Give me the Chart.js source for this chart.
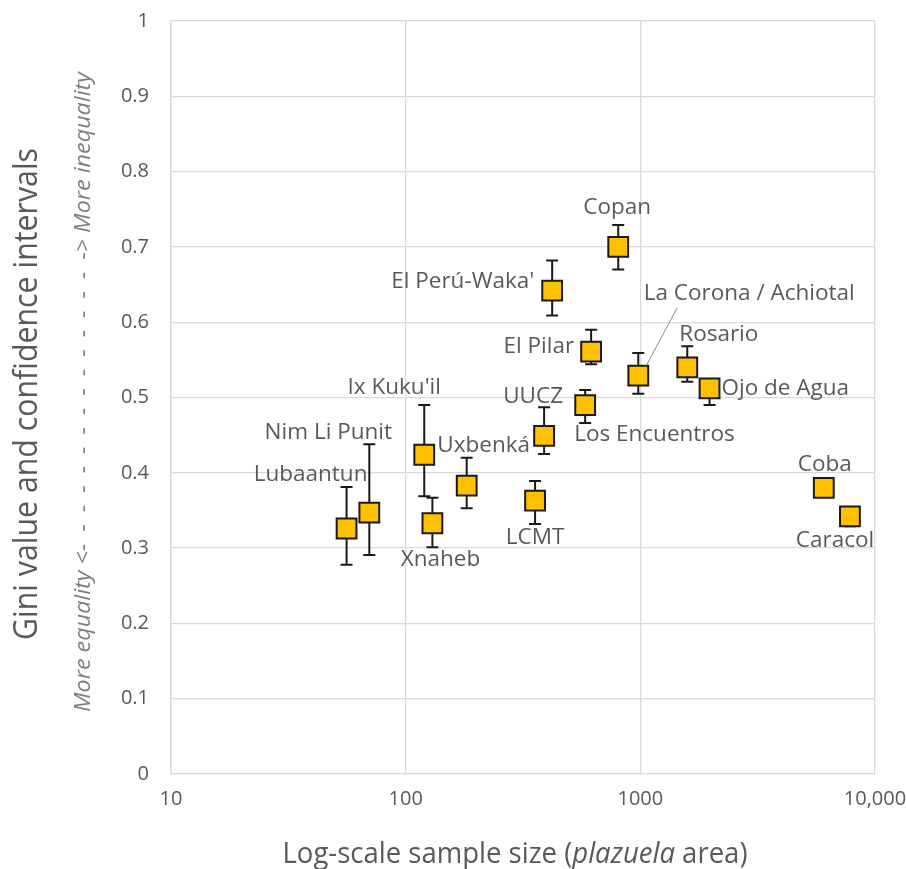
<!DOCTYPE html>
<html>
<head>
<meta charset="utf-8">
<script src="https://cdn.jsdelivr.net/npm/chart.js@4.4.1/dist/chart.umd.min.js"></script>
<style>
  html, body { margin: 0; padding: 0; background: #fff; }
  #wrap { width: 906px; height: 869px; }
</style>
</head>
<body>
<div id="wrap"><canvas id="giniChart" width="906" height="869"></canvas></div>
<script>
// sites and values
const sites = ["Lubaantun", "Nim Li Punit", "Ix Kuku'il", "Xnaheb", "Uxbenká", "LCMT", "UUCZ",
  "El Perú-Waka'", "Los Encuentros", "El Pilar", "Copan", "La Corona / Achiotal", "Rosario",
  "Ojo de Agua", "Coba", "Caracol"];
const sampleSize = [56, 70, 120, 130, 182, 356, 389, 421, 582, 617, 805, 980, 1585, 1972, 6050, 7820];
const gini =   [0.326, 0.347, 0.424, 0.333, 0.383, 0.363, 0.449, 0.642, 0.490, 0.561, 0.700, 0.529, 0.540, 0.512, 0.380, 0.342];
const ciLow =  [0.278, 0.291, 0.369, 0.301, 0.353, 0.332, 0.425, 0.609, 0.466, 0.544, 0.670, 0.505, 0.521, 0.490, 0.380, 0.329];
const ciHigh = [0.381, 0.438, 0.490, 0.367, 0.420, 0.389, 0.487, 0.682, 0.510, 0.590, 0.729, 0.559, 0.568, 0.512, 0.380, 0.342];

const xTicks = [10, 100, 1000, 10000];
const xTickLabels = ["10", "100", "1000", "10,000"];

const LABEL_FONT = '22.5px "Open Sans"';
const TEXT_GREY = "#595959";

// where each site name sits relative to its marker: [align, dx, dy]
const labelPlacement = {
  "Lubaantun": ["center", -36, -54],
  "Nim Li Punit": ["center", -41, -80],
  "Ix Kuku'il": ["center", -30, -67],
  "Xnaheb": ["center", 8, 36],
  "Uxbenká": ["center", 17, -40],
  "LCMT": ["center", 0, 37],
  "UUCZ": ["center", -11, -39],
  "El Perú-Waka'": ["right", -18, -9],
  "Los Encuentros": ["left", -11, 30],
  "El Pilar": ["right", -17, -5],
  "Copan": ["center", -1, -39],
  "La Corona / Achiotal": ["center", 111, -82],
  "Rosario": ["left", -8, -33],
  "Ojo de Agua": ["left", 12, 0],
  "Coba": ["center", 1, -23],
  "Caracol": ["center", -15, 24],
};

const errorBars = {
  id: "errorBars",
  beforeDatasetsDraw(chart) {
    const { ctx } = chart;
    const y = chart.scales.y;
    const meta = chart.getDatasetMeta(0);
    ctx.save();
    ctx.strokeStyle = "#1a1a1a";
    ctx.lineWidth = 2;
    meta.data.forEach((pt, i) => {
      const top = y.getPixelForValue(ciHigh[i]);
      const bot = y.getPixelForValue(ciLow[i]);
      ctx.beginPath();
      ctx.moveTo(pt.x, top); ctx.lineTo(pt.x, bot);
      ctx.moveTo(pt.x - 6, top); ctx.lineTo(pt.x + 6, top);
      ctx.moveTo(pt.x - 6, bot); ctx.lineTo(pt.x + 6, bot);
      ctx.stroke();
    });
    ctx.restore();
  }
};

const siteLabels = {
  id: "siteLabels",
  afterDatasetsDraw(chart) {
    const { ctx } = chart;
    const meta = chart.getDatasetMeta(0);
    ctx.save();
    ctx.font = LABEL_FONT;
    ctx.fillStyle = TEXT_GREY;
    ctx.textBaseline = "middle";
    meta.data.forEach((pt, i) => {
      const p = labelPlacement[sites[i]];
      ctx.textAlign = p[0];
      ctx.fillText(sites[i], pt.x + p[1], pt.y + p[2]);
      if (sites[i] === "La Corona / Achiotal") {
        // leader line
        ctx.strokeStyle = "#8c8c8c";
        ctx.lineWidth = 1;
        ctx.beginPath();
        ctx.moveTo(pt.x + 8, pt.y - 10);
        ctx.lineTo(pt.x + 39, pt.y - 68);
        ctx.stroke();
      }
    });
    ctx.restore();
  }
};

// draw a run of text pieces squeezed/stretched to a given length, centred on 0,0
function fitRun(ctx, parts, length) {
  let total = 0;
  parts.forEach(p => { ctx.font = p[1]; total += ctx.measureText(p[0]).width; });
  ctx.scale(length / total, 1);
  let x = -total / 2;
  ctx.textAlign = "left";
  parts.forEach(p => { ctx.font = p[1]; ctx.fillText(p[0], x, 0); x += ctx.measureText(p[0]).width; });
}

const axisTitles = {
  id: "axisTitles",
  afterDraw(chart) {
    const { ctx } = chart;
    ctx.save();
    ctx.fillStyle = TEXT_GREY;
    ctx.textBaseline = "middle";

    // x title with italic word
    ctx.save();
    ctx.translate(515, 855);
    fitRun(ctx, [["Log-scale sample size (", '29px "Open Sans"'], ["plazuela", 'italic 29px "Open Sans"'], [" area)", '29px "Open Sans"']], 465);
    ctx.restore();

    // y title
    ctx.save();
    ctx.translate(28, 394);
    ctx.rotate(-Math.PI / 2);
    fitRun(ctx, [["Gini value and confidence intervals", '33px "Open Sans"']], 492);
    ctx.restore();

    // italic equality note
    ctx.save();
    ctx.translate(84, 392);
    ctx.rotate(-Math.PI / 2);
    ctx.fillStyle = "#7f7f7f";
    const dashes = "-  ".repeat(15) + "-";
    fitRun(ctx, [["More equality <" + dashes + "> More inequality", 'italic 22px "Open Sans"']], 640);
    ctx.restore();

    ctx.restore();
  }
};

new Chart(document.getElementById("giniChart"), {
  type: "scatter",
  data: {
    datasets: [{
      data: sampleSize.map((s, i) => ({ x: s, y: gini[i] })),
      pointStyle: "rect",
      pointRadius: 14,
      pointHoverRadius: 14,
      backgroundColor: "#FFC000",
      borderColor: "#1a1a1a",
      borderWidth: 2,
    }]
  },
  options: {
    responsive: false,
    animation: false,
    devicePixelRatio: 1,
    layout: { padding: { top: 21, right: 31, left: 0, bottom: 0 } },
    plugins: { legend: { display: false }, tooltip: { enabled: false } },
    scales: {
      x: {
        type: "logarithmic",
        min: 10, max: 10000,
        afterBuildTicks: s => { s.ticks = xTicks.map(v => ({ value: v })); },
        afterFit: s => { s.height = 95; s.paddingLeft = 0; s.paddingRight = 0; },
        ticks: {
          callback: v => xTickLabels[xTicks.indexOf(v)],
          color: TEXT_GREY,
          font: { family: "Open Sans", size: 20 },
          padding: 13,
          maxRotation: 0,
        },
        grid: { color: "#d9d9d9", lineWidth: 1.3, drawTicks: false },
        border: { color: "#d9d9d9", width: 1.3 },
      },
      y: {
        min: 0, max: 1,
        afterFit: s => { s.width = 171; s.paddingTop = 0; s.paddingBottom = 0; },
        ticks: {
          stepSize: 0.1,
          callback: v => String(Math.round(v * 10) / 10),
          color: TEXT_GREY,
          font: { family: "Open Sans", size: 20 },
          padding: 22,
        },
        grid: { color: "#d9d9d9", lineWidth: 1.3, drawTicks: false },
        border: { color: "#d9d9d9", width: 1.3 },
      }
    }
  },
  plugins: [errorBars, siteLabels, axisTitles]
});
</script>
</body>
</html>
